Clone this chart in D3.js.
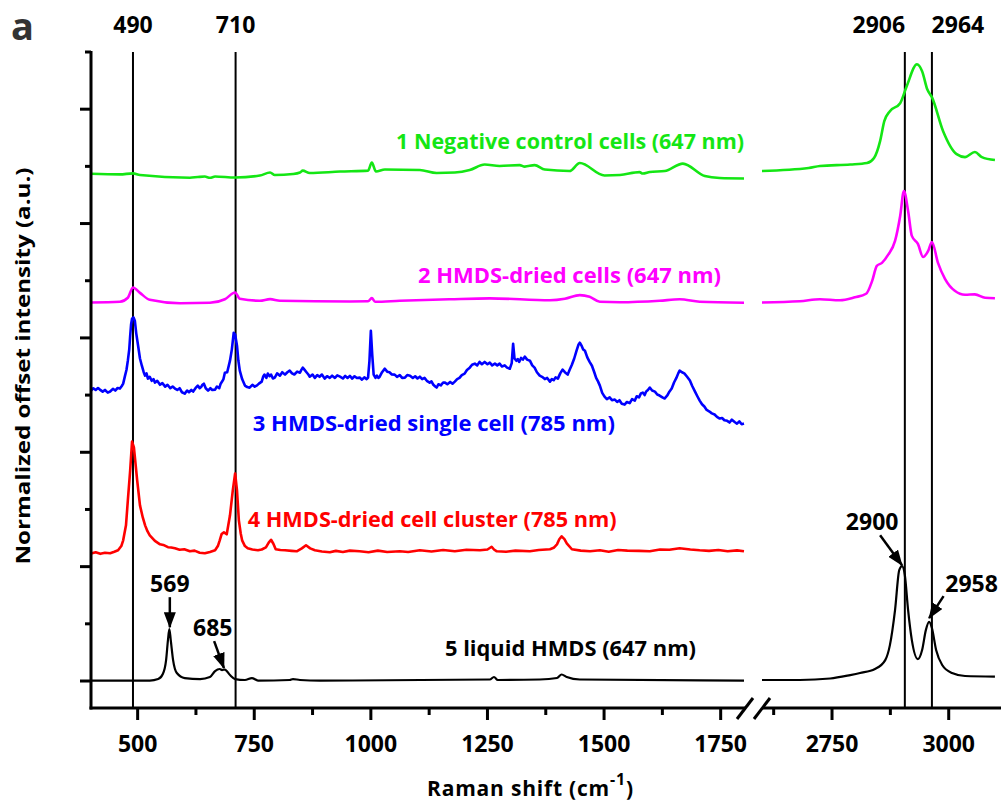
<!DOCTYPE html>
<html>
<head>
<meta charset="utf-8">
<script src="https://cdn.jsdelivr.net/npm/d3@7"></script>
<style>
  body { margin: 0; background: #fff; }
  text { font-family: "Open Sans", "Noto Sans", sans-serif; font-weight: 700; }
</style>
</head>
<body>
<div id="chart"></div>
<script>
// spectra as [Raman shift, offset intensity]
const negLeft = [[400,4.435],[462,4.430],[490,4.439],[505,4.424],[612,4.401],[629,4.407],[644,4.411],[655,4.400],[666,4.411],[709,4.402],[762,4.420],[784,4.446],[794,4.424],[833,4.433],[848,4.446],[854,4.463],[869,4.442],[934,4.455],[994,4.463],[1002,4.533],[1011,4.455],[1030,4.472],[1105,4.468],[1141,4.442],[1180,4.446],[1212,4.468],[1244,4.516],[1276,4.503],[1319,4.511],[1330,4.498],[1351,4.511],[1373,4.472],[1426,4.459],[1448,4.529],[1501,4.420],[1534,4.424],[1576,4.450],[1583,4.437],[1598,4.450],[1630,4.459],[1669,4.524],[1716,4.415],[1748,4.398],[1800,4.394]];
const negRight = [[2600,4.459],[2700,4.485],[2724,4.503],[2789,4.516],[2825,4.529],[2840,4.573],[2853,4.721],[2862,4.896],[2874,4.983],[2896,5.052],[2910,5.201],[2932,5.393],[2943,5.332],[2954,5.174],[2964,5.105],[2988,4.808],[3017,4.607],[3035,4.581],[3056,4.625],[3071,4.581],[3099,4.555]];

const cellsLeft = [[400,3.310],[462,3.316],[479,3.351],[490,3.441],[505,3.394],[526,3.333],[591,3.303],[655,3.307],[687,3.338],[709,3.397],[719,3.342],[762,3.325],[784,3.339],[805,3.325],[955,3.319],[994,3.320],[1002,3.348],[1009,3.316],[1062,3.325],[1169,3.338],[1255,3.346],[1384,3.329],[1416,3.342],[1448,3.374],[1469,3.360],[1491,3.316],[1534,3.312],[1619,3.325],[1662,3.338],[1705,3.316],[1800,3.307]];
const cellsRight = [[2600,3.310],[2681,3.320],[2724,3.338],[2767,3.329],[2799,3.355],[2823,3.386],[2836,3.499],[2846,3.630],[2857,3.656],[2870,3.726],[2885,3.848],[2896,4.066],[2904,4.284],[2913,4.110],[2921,3.892],[2934,3.822],[2945,3.708],[2956,3.761],[2964,3.839],[2977,3.656],[2992,3.517],[3013,3.412],[3035,3.377],[3056,3.381],[3078,3.351],[3099,3.347]];

const singleCell = [[400,2.539],[405,2.560],[410,2.545],[415,2.562],[419,2.548],[425,2.530],[430,2.545],[436,2.522],[441,2.531],[447,2.555],[452,2.540],[457,2.562],[462,2.557],[466,2.580],[469,2.600],[473,2.670],[476,2.720],[479,2.801],[482,2.900],[484,3.019],[486,3.120],[488,3.168],[491,3.180],[494,3.150],[497,3.040],[501,2.932],[505,2.820],[509,2.757],[513,2.700],[516,2.670],[519,2.690],[522,2.644],[526,2.660],[530,2.625],[534,2.640],[537,2.609],[542,2.625],[548,2.590],[553,2.605],[559,2.574],[564,2.590],[570,2.560],[575,2.575],[580,2.557],[585,2.545],[590,2.560],[595,2.525],[601,2.513],[606,2.540],[610,2.525],[615,2.545],[619,2.531],[624,2.560],[629,2.583],[633,2.560],[636,2.570],[639,2.590],[642,2.600],[646,2.560],[651,2.539],[656,2.560],[660,2.545],[666,2.548],[670,2.575],[675,2.560],[678,2.600],[681,2.618],[684,2.640],[687,2.696],[692,2.700],[698,2.801],[702,2.900],[706,3.045],[709,3.030],[713,2.932],[716,2.800],[719,2.714],[724,2.640],[730,2.583],[735,2.570],[740,2.565],[746,2.590],[751,2.574],[756,2.585],[760,2.600],[766,2.618],[769,2.660],[772,2.680],[776,2.650],[779,2.688],[783,2.665],[786,2.680],[790,2.645],[794,2.653],[799,2.690],[805,2.670],[810,2.700],[816,2.679],[821,2.700],[826,2.714],[831,2.690],[836,2.680],[842,2.705],[848,2.696],[851,2.720],[854,2.740],[858,2.720],[862,2.700],[866,2.680],[869,2.661],[875,2.680],[880,2.650],[885,2.675],[890,2.660],[895,2.680],[901,2.644],[906,2.665],[912,2.650],[917,2.670],[923,2.650],[928,2.672],[934,2.661],[940,2.645],[945,2.668],[950,2.650],[955,2.668],[960,2.645],[965,2.665],[970,2.650],[976,2.653],[981,2.635],[986,2.655],[991,2.640],[994,2.653],[997,2.800],[1000,3.063],[1003,2.850],[1006,2.679],[1010,2.650],[1013,2.670],[1016,2.650],[1019,2.661],[1024,2.700],[1030,2.731],[1035,2.705],[1040,2.700],[1045,2.680],[1051,2.679],[1056,2.660],[1062,2.675],[1067,2.650],[1073,2.653],[1078,2.675],[1084,2.670],[1090,2.650],[1095,2.665],[1100,2.645],[1105,2.661],[1110,2.640],[1115,2.650],[1120,2.625],[1126,2.609],[1130,2.620],[1134,2.590],[1138,2.575],[1141,2.566],[1145,2.595],[1150,2.585],[1155,2.610],[1159,2.609],[1164,2.595],[1170,2.615],[1175,2.600],[1180,2.618],[1185,2.640],[1190,2.650],[1195,2.675],[1201,2.688],[1206,2.720],[1212,2.740],[1217,2.765],[1223,2.775],[1228,2.760],[1233,2.790],[1238,2.770],[1244,2.790],[1250,2.770],[1255,2.784],[1260,2.760],[1266,2.775],[1271,2.760],[1276,2.775],[1281,2.750],[1287,2.760],[1292,2.740],[1298,2.731],[1302,2.780],[1305,2.949],[1308,2.820],[1312,2.800],[1315,2.815],[1318,2.790],[1322,2.825],[1326,2.810],[1330,2.836],[1335,2.810],[1341,2.801],[1346,2.760],[1351,2.740],[1356,2.700],[1362,2.670],[1367,2.660],[1373,2.640],[1378,2.650],[1384,2.618],[1388,2.640],[1392,2.630],[1396,2.655],[1401,2.644],[1406,2.690],[1411,2.723],[1416,2.700],[1422,2.679],[1426,2.720],[1431,2.766],[1436,2.820],[1441,2.888],[1445,2.940],[1448,2.958],[1452,2.930],[1455,2.900],[1459,2.888],[1464,2.830],[1469,2.790],[1474,2.757],[1479,2.700],[1483,2.650],[1487,2.620],[1491,2.583],[1496,2.520],[1501,2.487],[1506,2.465],[1512,2.480],[1517,2.455],[1523,2.461],[1528,2.440],[1533,2.455],[1538,2.425],[1544,2.417],[1549,2.440],[1555,2.430],[1560,2.465],[1566,2.452],[1570,2.490],[1575,2.480],[1579,2.515],[1583,2.522],[1587,2.500],[1590,2.530],[1594,2.545],[1598,2.566],[1603,2.540],[1609,2.530],[1614,2.505],[1619,2.496],[1625,2.480],[1630,2.470],[1636,2.500],[1640,2.530],[1645,2.557],[1650,2.610],[1655,2.650],[1659,2.690],[1662,2.714],[1667,2.700],[1672,2.690],[1678,2.660],[1684,2.627],[1689,2.580],[1695,2.530],[1700,2.490],[1705,2.452],[1710,2.420],[1715,2.400],[1720,2.370],[1726,2.356],[1731,2.340],[1737,2.330],[1742,2.310],[1748,2.295],[1753,2.300],[1758,2.280],[1764,2.275],[1769,2.260],[1774,2.285],[1780,2.265],[1785,2.250],[1790,2.270],[1795,2.245],[1800,2.251]];

const cluster = [[400,1.114],[410,1.125],[420,1.112],[430,1.122],[441,1.117],[450,1.130],[458,1.143],[465,1.180],[469,1.230],[475,1.361],[479,1.579],[484,1.841],[488,2.094],[492,2.042],[499,1.754],[505,1.536],[511,1.430],[516,1.361],[521,1.310],[526,1.274],[537,1.225],[548,1.195],[555,1.190],[565,1.170],[572,1.168],[580,1.161],[590,1.148],[600,1.152],[612,1.134],[622,1.140],[633,1.122],[644,1.117],[655,1.128],[666,1.143],[672,1.180],[676,1.230],[680,1.285],[685,1.300],[691,1.283],[698,1.449],[704,1.667],[709,1.815],[713,1.667],[717,1.405],[721,1.290],[724,1.230],[730,1.180],[736,1.161],[746,1.150],[758,1.143],[766,1.150],[775,1.169],[781,1.210],[786,1.235],[791,1.200],[796,1.152],[806,1.145],[816,1.143],[830,1.138],[841,1.134],[852,1.160],[861,1.187],[870,1.160],[880,1.143],[895,1.132],[912,1.126],[925,1.138],[940,1.128],[955,1.140],[976,1.134],[995,1.126],[1015,1.140],[1035,1.128],[1062,1.134],[1080,1.128],[1105,1.143],[1130,1.132],[1155,1.145],[1180,1.135],[1205,1.148],[1234,1.143],[1250,1.150],[1259,1.174],[1264,1.150],[1270,1.134],[1290,1.130],[1310,1.140],[1341,1.134],[1360,1.145],[1384,1.152],[1392,1.165],[1399,1.195],[1404,1.240],[1409,1.265],[1415,1.240],[1420,1.204],[1431,1.152],[1450,1.140],[1470,1.135],[1491,1.143],[1510,1.130],[1530,1.145],[1550,1.140],[1575,1.138],[1598,1.134],[1620,1.150],[1640,1.148],[1662,1.161],[1685,1.150],[1705,1.143],[1725,1.138],[1745,1.145],[1765,1.135],[1785,1.142],[1800,1.134]];

const hmdsLeft = [[400,0.003],[526,0.004],[544,0.017],[554,0.061],[561,0.183],[565,0.358],[568,0.454],[571,0.358],[576,0.183],[584,0.070],[601,0.026],[634,0.017],[655,0.035],[666,0.087],[676,0.105],[681,0.096],[687,0.100],[698,0.052],[709,0.017],[730,0.009],[745,0.026],[758,0.004],[826,0.009],[833,0.017],[848,0.009],[891,0.004],[1255,0.013],[1264,0.035],[1272,0.009],[1362,0.013],[1399,0.026],[1409,0.057],[1420,0.035],[1448,0.013],[1800,0.004]];
const hmdsRight = [[2600,0.009],[2681,0.009],[2746,0.022],[2789,0.052],[2810,0.070],[2842,0.105],[2864,0.183],[2874,0.314],[2885,0.620],[2894,0.969],[2900,1.004],[2906,0.925],[2913,0.620],[2921,0.358],[2934,0.192],[2943,0.271],[2951,0.445],[2958,0.517],[2964,0.463],[2973,0.271],[2986,0.140],[3007,0.070],[3035,0.044],[3099,0.039]];

const seriesNames = ["1 Negative control cells (647 nm)", "2 HMDS-dried cells (647 nm)", "3 HMDS-dried single cell (785 nm)", "4 HMDS-dried cell cluster (785 nm)", "5 liquid HMDS (647 nm)"];
const seriesColors = ["#14e614", "#ff00ff", "#0000ff", "#ff0000", "#000000"];
const markerLines = [490, 710, 2906, 2964];
const majorTicks = [500, 750, 1000, 1250, 1500, 1750, 2750, 3000];
const minorTicks = [625, 875, 1125, 1375, 1625, 2625, 2875];
const peakNotes = ["569", "685", "2900", "2958"];

const w = 1001;
const h = 801;

const svg = d3.select("#chart").append("svg")
  .attr("width", w)
  .attr("height", h);

// broken x axis: 400-1800 then 2600-3112
const x = d3.scaleLinear().domain([400, 1800, 2600, 3112]).range([91, 744, 762, 1001]);
const y = d3.scaleLinear().domain([-0.236, 5.5]).range([708, 52]);

const smooth = d3.line().x(d => x(d[0])).y(d => y(d[1])).curve(d3.curveMonotoneX);
const noisy = d3.line().x(d => x(d[0])).y(d => y(d[1]));

// vertical reference lines
svg.selectAll(".ref").data(markerLines).enter().append("line")
  .attr("x1", d => x(d)).attr("x2", d => x(d))
  .attr("y1", y(5.5)).attr("y2", y(-0.236))
  .attr("stroke", "#000").attr("stroke-width", 2);

// the spectra (785 nm ones are noisy, drawn straight)
const spectra = [[negLeft, 0], [negRight, 0], [cellsLeft, 1], [cellsRight, 1], [singleCell, 2], [cluster, 3], [hmdsLeft, 4], [hmdsRight, 4]];
svg.selectAll(".spec").data(spectra).enter().append("path")
  .attr("d", d => (d[1] == 2 || d[1] == 3) ? noisy(d[0]) : smooth(d[0]))
  .attr("fill", "none")
  .attr("stroke", d => seriesColors[d[1]])
  .attr("stroke-width", d => d[1] == 4 ? 2.2 : 2.6)
  .attr("stroke-linejoin", "round");

// labels on the curves
const labelPos = [[1054, 4.651, 348], [1101, 3.484, 303], [747, 2.190, 362], [736, 1.346, 369], [1159, 0.218, 251]];
svg.selectAll(".lab").data(seriesNames).enter().append("text")
  .attr("x", (d, i) => x(labelPos[i][0]))
  .attr("y", (d, i) => y(labelPos[i][1]))
  .attr("textLength", (d, i) => labelPos[i][2])
  .attr("lengthAdjust", "spacingAndGlyphs")
  .attr("font-size", 22)
  .attr("font-weight", (d, i) => i == 4 ? 600 : 700)
  .attr("fill", (d, i) => seriesColors[i])
  .text(d => d);

// axes
const axisG = svg.append("g").attr("stroke", "#000").attr("stroke-width", 3);
axisG.append("line").attr("x1", x(400)).attr("x2", x(400)).attr("y1", y(5.5) - 1).attr("y2", y(-0.236) + 1.5);
axisG.append("line").attr("x1", x(400) - 1.5).attr("x2", x(1800) + 1).attr("y1", y(-0.236)).attr("y2", y(-0.236));
axisG.append("line").attr("x1", x(2600)).attr("x2", w).attr("y1", y(-0.236)).attr("y2", y(-0.236));
// break marks
[x(1800) + 1, x(2600)].forEach(bx => {
  axisG.append("line").attr("x1", bx - 8).attr("x2", bx + 8)
    .attr("y1", y(-0.236) + 11).attr("y2", y(-0.236) - 10);
});

axisG.selectAll(".xmaj").data(majorTicks).enter().append("line")
  .attr("x1", d => x(d)).attr("x2", d => x(d))
  .attr("y1", y(-0.236)).attr("y2", y(-0.236) + 12);
axisG.selectAll(".xmin").data(minorTicks).enter().append("line")
  .attr("x1", d => x(d)).attr("x2", d => x(d))
  .attr("y1", y(-0.236)).attr("y2", y(-0.236) + 7);

const yMajor = d3.range(0, 6, 1);
const yMinor = d3.range(0.5, 6, 1);
axisG.selectAll(".ymaj").data(yMajor).enter().append("line")
  .attr("x1", x(400) - 11).attr("x2", x(400))
  .attr("y1", d => y(d)).attr("y2", d => y(d));
axisG.selectAll(".ymin").data(yMinor).enter().append("line")
  .attr("x1", x(400) - 6).attr("x2", x(400))
  .attr("y1", d => y(d)).attr("y2", d => y(d));

svg.selectAll(".xlab").data(majorTicks).enter().append("text")
  .attr("x", d => x(d))
  .attr("y", 752)
  .attr("text-anchor", "middle")
  .attr("font-size", 23)
  .attr("font-weight", 600)
  .text(d => d);

// peak positions on top
svg.selectAll(".top").data(markerLines).enter().append("text")
  .attr("x", (d, i) => x(d) + [0, 0, -26, 26][i])
  .attr("y", 33)
  .attr("text-anchor", "middle")
  .attr("font-size", 23)
  .attr("font-weight", 600)
  .text(d => d);

// arrows to peaks of liquid HMDS
svg.append("defs").append("marker")
  .attr("id", "head")
  .attr("markerUnits", "userSpaceOnUse")
  .attr("markerWidth", 16).attr("markerHeight", 12)
  .attr("refX", 15).attr("refY", 6)
  .attr("orient", "auto")
  .append("path").attr("d", "M0,0L16,6L0,12Z").attr("fill", "#000");

const arrows = [[569, 0.733, 569, 0.47], [664, 0.349, 685, 0.113], [2853, 1.274, 2900, 1.012], [2989, 0.742, 2958, 0.550]];
const noteAt = [[569, 0.777], [661, 0.393], [2836, 1.318], [3049, 0.777]];
svg.selectAll(".arrow").data(arrows).enter().append("line")
  .attr("x1", d => x(d[0])).attr("y1", d => y(d[1]))
  .attr("x2", d => x(d[2])).attr("y2", d => y(d[3]))
  .attr("stroke", "#000").attr("stroke-width", 2.5)
  .attr("marker-end", "url(#head)");
svg.selectAll(".note").data(peakNotes).enter().append("text")
  .attr("x", (d, i) => x(noteAt[i][0]))
  .attr("y", (d, i) => y(noteAt[i][1]))
  .attr("text-anchor", "middle")
  .attr("font-size", 23)
  .attr("font-weight", 600)
  .text(d => d);

// axis titles
svg.append("text")
  .attr("transform", "translate(30,366) rotate(-90)")
  .attr("text-anchor", "middle")
  .attr("font-size", 20)
  .attr("textLength", 397)
  .attr("lengthAdjust", "spacingAndGlyphs")
  .text("Normalized offset intensity (a.u.)");

const xt = svg.append("text")
  .attr("x", 427)
  .attr("y", 796)
  .attr("font-size", 21)
  .attr("letter-spacing", 0.8);
xt.append("tspan").text("Raman shift (cm");
xt.append("tspan").attr("font-size", 16).attr("dy", -11).text("-1");
xt.append("tspan").attr("dy", 11).text(")");

// panel letter
svg.append("text")
  .attr("x", 11).attr("y", 40)
  .attr("font-family", "Liberation Sans, Arial, sans-serif")
  .attr("font-size", 38)
  .attr("fill", "#333")
  .text("a");
</script>
</body>
</html>
